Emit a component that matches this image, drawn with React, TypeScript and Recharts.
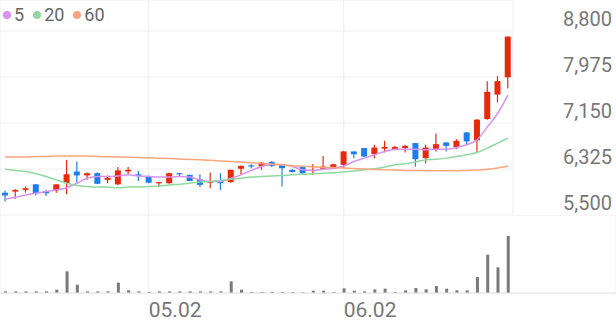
import React from 'react';
import { ComposedChart, Bar, Line, XAxis, YAxis, CartesianGrid } from 'recharts';

const dates = [
  '04.11', '04.14', '04.15', '04.16', '04.17', '04.18', '04.21', '04.22', '04.23', '04.24',
  '04.25', '04.28', '04.29', '04.30', '05.02', '05.07', '05.08', '05.09', '05.12', '05.13',
  '05.14', '05.15', '05.16', '05.19', '05.20', '05.21', '05.22', '05.23', '05.26', '05.27',
  '05.28', '05.29', '05.30', '06.02', '06.04', '06.05', '06.09', '06.10', '06.11', '06.12',
  '06.13', '06.16', '06.17', '06.18', '06.19', '06.20', '06.23', '06.24', '06.25', '06.26',
];

const opens = [
  5900, 5920, 5950, 6050, 5930, 5940, 6070, 6280, 6210, 6250,
  6130, 6050, 6280, 6230, 6200, 6070, 6070, 6250, 6220, 6140,
  6090, 6110, 6090, 6330, 6390, 6370, 6450, 6410, 6310, 6360,
  6300, 6330, 6330, 6400, 6640, 6700, 6590, 6690, 6680, 6700,
  6790, 6520, 6680, 6800, 6720, 6980, 6840, 7220, 7660, 7970,
];
const highs = [
  5940, 5960, 6010, 6050, 5950, 6050, 6490, 6460, 6260, 6260,
  6210, 6360, 6360, 6290, 6210, 6090, 6260, 6250, 6220, 6230,
  6260, 6250, 6310, 6390, 6410, 6450, 6470, 6420, 6320, 6360,
  6410, 6560, 6420, 6650, 6640, 6700, 6760, 6830, 6740, 6760,
  6790, 6760, 6960, 6810, 6860, 6990, 7220, 7900, 7990, 8700,
];
const lows = [
  5740, 5790, 5900, 5850, 5840, 5900, 5870, 6080, 6130, 6050,
  6070, 6040, 6220, 6110, 6070, 6000, 6060, 6200, 6110, 6000,
  5980, 5950, 6080, 6220, 6340, 6310, 6360, 6010, 6260, 6240,
  6220, 6320, 6330, 6340, 6520, 6540, 6520, 6620, 6660, 6620,
  6370, 6430, 6640, 6640, 6680, 6770, 6620, 7210, 7520, 7770,
];
const closes = [
  5850, 5950, 5980, 5890, 5890, 6050, 6230, 6210, 6250, 6060,
  6170, 6300, 6310, 6200, 6080, 6090, 6250, 6230, 6110, 6040,
  6100, 6070, 6310, 6380, 6380, 6440, 6380, 6340, 6270, 6250,
  6310, 6370, 6410, 6640, 6590, 6550, 6710, 6720, 6720, 6740,
  6500, 6710, 6770, 6740, 6830, 6820, 7210, 7710, 7900, 8700,
];

const ma5 = [
  5780, 5820, 5860, 5890, 5920, 5950, 5990, 6070, 6160, 6190,
  6190, 6200, 6220, 6200, 6190, 6180, 6180, 6190, 6180, 6130,
  6100, 6100, 6160, 6220, 6300, 6370, 6410, 6400, 6370, 6310,
  6300, 6320, 6340, 6380, 6460, 6520, 6580, 6640, 6680, 6680,
  6680, 6670, 6680, 6680, 6710, 6760, 6850, 7080, 7320, 7650,
];
const ma20 = [
  6320, 6300, 6280, 6240, 6190, 6130, 6070, 6030, 6010, 6000,
  6000, 5990, 6000, 6000, 6010, 6020, 6040, 6050, 6070, 6090,
  6100, 6120, 6140, 6160, 6180, 6190, 6200, 6210, 6220, 6230,
  6240, 6250, 6255, 6270, 6290, 6310, 6330, 6360, 6400, 6420,
  6450, 6490, 6500, 6520, 6550, 6580, 6620, 6700, 6790, 6880,
];
const ma60 = [
  6540, 6540, 6540, 6550, 6550, 6560, 6560, 6560, 6560, 6550,
  6545, 6540, 6535, 6530, 6525, 6520, 6515, 6505, 6497, 6490,
  6480, 6470, 6460, 6450, 6435, 6425, 6410, 6400, 6385, 6375,
  6365, 6355, 6350, 6345, 6335, 6325, 6315, 6310, 6305, 6300,
  6298, 6295, 6295, 6295, 6295, 6300, 6305, 6320, 6345, 6380,
];

const volumes = [
  100, 100, 100, 100, 100, 200, 1300, 500, 100, 100,
  100, 620, 160, 100, 60, 100, 100, 100, 100, 100,
  100, 100, 700, 200, 60, 60, 60, 60, 60, 40,
  140, 140, 60, 280, 140, 100, 220, 260, 60, 160,
  300, 220, 420, 260, 160, 160, 960, 2300, 1540, 3420,
];

const dateTicks = ['05.02', '06.02'];
const priceTicks = [5500, 6325, 7150, 7975, 8800];
const priceDomain = [5500, 9356];
const volumeDomain = [0, 4680];

const maSeries = [
  { key: 'ma5', name: '5', color: '#d891ef' },
  { key: 'ma20', name: '20', color: '#8fd9a0' },
  { key: 'ma60', name: '60', color: '#fca57e' },
];

const RED = '#e8290b';
const BLUE = '#1c7ded';

const rows = dates.map((date, i) => ({
  date,
  open: opens[i],
  high: highs[i],
  low: lows[i],
  close: closes[i],
  ma5: ma5[i],
  ma20: ma20[i],
  ma60: ma60[i],
  vol: volumes[i],
}));

const candleRange = (d: any) => [d.low, d.high];

const Candle = (props: any) => {
  const { x, y, width, height, payload } = props;
  if (!payload) return null;
  const { open, close, high, low } = payload;
  const up = close >= open;
  const color = up ? RED : BLUE;
  const ratio = high === low ? 0 : height / (high - low);
  const yOf = (v: number) => y + (high - v) * ratio;
  const top = yOf(Math.max(open, close));
  const bot = yOf(Math.min(open, close));
  const bodyH = Math.max(1.2, bot - top);
  const cx = x + width / 2;
  return (
    <g>
      <line x1={cx} x2={cx} y1={y} y2={y + height} stroke={color} strokeWidth={1.2} />
      <rect x={x} y={top} width={width} height={bodyH} fill={color} />
    </g>
  );
};

const PriceTick = (props: any) => {
  const { x, y, payload } = props;
  return (
    <text x={x + 91} y={y - 5} textAnchor="end" fontSize={20} fill="#777" fontFamily="Roboto">
      {Number(payload.value).toLocaleString('en-US')}
    </text>
  );
};

const DateTick = (props: any) => {
  const { x, y, payload } = props;
  return (
    <text x={x} y={y + 16} textAnchor="start" fontSize={21} fill="#777" fontFamily="Roboto">
      {payload.value}
    </text>
  );
};

export default function App() {
  return (
    <div style={{ position: 'absolute', left: 0, top: 0, width: 616, height: 321, background: '#fff', fontFamily: 'Roboto' }}>
      <ComposedChart width={616} height={215} data={rows} margin={{ top: 0, right: 0, bottom: 0, left: 0 }}>
        <CartesianGrid stroke="#efefef" />
        <XAxis dataKey="date" hide ticks={dateTicks} interval={0} />
        <YAxis
          orientation="right"
          width={103}
          domain={priceDomain}
          allowDataOverflow
          ticks={priceTicks}
          interval={0}
          axisLine={false}
          tickLine={false}
          tick={<PriceTick />}
        />
        {maSeries.map((s) => (
          <Line
            key={s.key}
            dataKey={s.key}
            name={s.name}
            type="monotone"
            stroke={s.color}
            strokeWidth={1.5}
            dot={false}
            activeDot={false}
            isAnimationActive={false}
          />
        ))}
        <Bar dataKey={candleRange} barSize={6} shape={<Candle />} isAnimationActive={false} />
      </ComposedChart>
      <ComposedChart width={616} height={106} data={rows} margin={{ top: 0, right: 0, bottom: 0, left: 0 }}>
        <CartesianGrid stroke="#efefef" />
        <XAxis
          dataKey="date"
          ticks={dateTicks}
          interval={0}
          padding={{ left: 0, right: 103 }}
          height={28}
          axisLine={{ stroke: '#e4e4e4' }}
          tickLine={false}
          tick={<DateTick />}
        />
        <YAxis hide domain={volumeDomain} ticks={volumeDomain} allowDataOverflow />
        <Bar dataKey="vol" barSize={3} fill="#7a7a7a" isAnimationActive={false} />
      </ComposedChart>
      <div style={{ position: 'absolute', left: 3, top: 4, display: 'flex', alignItems: 'center', height: 22 }}>
        {maSeries.map((s, i) => (
          <div key={s.key} style={{ display: 'flex', alignItems: 'center', marginLeft: i === 0 ? 0 : 9 }}>
            <span style={{ width: 8, height: 8, borderRadius: 4, background: s.color, display: 'inline-block' }} />
            <span style={{ marginLeft: 3, fontSize: 18, color: '#666', lineHeight: '22px' }}>{s.name}</span>
          </div>
        ))}
      </div>
    </div>
  );
}
